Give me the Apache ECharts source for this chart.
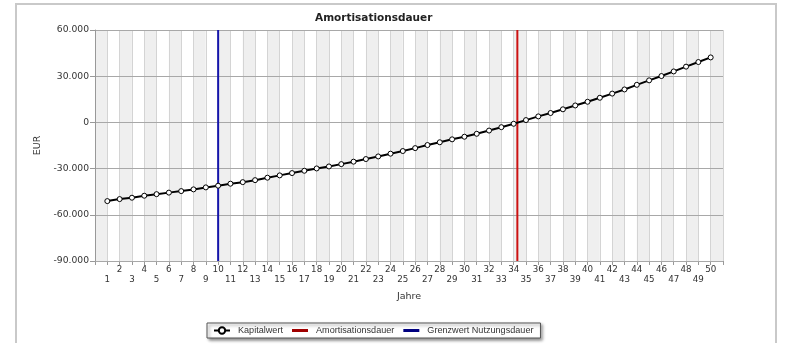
<!DOCTYPE html>
<html>
<head>
<meta charset="utf-8">
<script src="https://cdn.jsdelivr.net/npm/echarts@6/dist/echarts.min.js"></script>
<style>
  html, body { margin: 0; padding: 0; background: #fff; }
  #chart { width: 800px; height: 351px; }
</style>
</head>
<body>
<div id="chart"></div>
<script>
  // Jahre 1..50
  const jahre = [1, 2, 3, 4, 5, 6, 7, 8, 9, 10, 11, 12, 13, 14, 15, 16, 17, 18, 19, 20,
    21, 22, 23, 24, 25, 26, 27, 28, 29, 30, 31, 32, 33, 34, 35, 36, 37, 38, 39, 40,
    41, 42, 43, 44, 45, 46, 47, 48, 49, 50];

  // Kapitalwert in EUR
  const kapitalwert = [-51100, -49800, -48900, -47600, -46600, -45600, -44600, -43500, -42200, -41100,
    -39800, -38800, -37500, -35900, -34400, -32900, -31400, -29900, -28600, -27100,
    -25500, -23800, -22100, -20300, -18600, -16700, -14700, -12900, -11000, -9300,
    -7400, -5300, -3100, -900, 1500, 3900, 6100, 8500, 11000, 13400,
    16000, 18700, 21400, 24400, 27300, 30100, 33100, 36200, 39200, 42200];

  const amortisationsdauer = [34.3];
  const grenzwertNutzungsdauer = [10];
  const yRange = [-90000, 60000];

  const fmtEUR = v => {
    const s = String(Math.abs(v)).replace(/\B(?=(\d{3})+(?!\d))/g, '.');
    return (v < 0 ? '-' : '') + s;
  };

  const lineIcon = 'path://M0 0H16V3H0Z';

  const chart = echarts.init(document.getElementById('chart'));

  chart.setOption({
    animation: false,
    backgroundColor: '#fff',
    textStyle: { fontFamily: 'DejaVu Sans' },
    graphic: [{
      type: 'polyline',
      shape: { points: [[16, 343], [16, 4], [776, 4], [776, 343]] },
      style: { stroke: '#c9c9c9', lineWidth: 2, fill: null },
      silent: true
    }],
    title: {
      text: 'Amortisationsdauer',
      left: 315,
      top: 13,
      padding: 0,
      textStyle: { fontFamily: 'DejaVu Sans', fontSize: 10.5, fontWeight: 'bold', color: '#222' }
    },
    legend: {
      left: 207,
      top: 323,
      padding: [3, 7, 3, 6],
      itemGap: 9,
      itemWidth: 16,
      itemHeight: 8,
      borderColor: '#555',
      borderWidth: 1,
      backgroundColor: '#fff',
      shadowBlur: 3,
      shadowColor: 'rgba(0,0,0,0.45)',
      shadowOffsetX: 2,
      shadowOffsetY: 2,
      textStyle: { fontFamily: 'Liberation Sans', fontSize: 9.1, color: '#333', padding: [0, 0, 0, 3] },
      data: [
        'Kapitalwert',
        { name: 'Amortisationsdauer', icon: lineIcon },
        { name: 'Grenzwert Nutzungsdauer', icon: lineIcon }
      ]
    },
    grid: { left: 95, top: 30, right: 77, bottom: 90 },
    xAxis: {
      type: 'value',
      z: 0,
      min: 0,
      max: 51,
      interval: 1,
      name: 'Jahre',
      nameLocation: 'middle',
      nameGap: 31,
      nameTextStyle: { fontSize: 9.5, color: '#333' },
      axisLine: { onZero: false, lineStyle: { color: '#999' } },
      axisTick: { show: true, length: 4, lineStyle: { color: '#999' } },
      axisLabel: {
        margin: 4,
        fontSize: 8.7,
        lineHeight: 10,
        color: '#333',
        verticalAlign: 'top',
        formatter: v => {
          if (v < 1 || v > 50) return '';
          return v % 2 === 0 ? String(v) : '\n' + v;
        }
      },
      splitLine: { show: true, lineStyle: { color: '#d4d4d4' } },
      splitArea: { show: true, areaStyle: { color: ['#efefef', '#ffffff'] } }
    },
    yAxis: {
      type: 'value',
      z: 1,
      min: yRange[0],
      max: yRange[1],
      interval: 30000,
      name: 'EUR',
      nameLocation: 'middle',
      nameGap: 52,
      nameTextStyle: { fontSize: 9.5, color: '#333' },
      axisLine: { show: true, onZero: false, lineStyle: { color: '#999' } },
      axisTick: { show: true, length: 5, lineStyle: { color: '#999' } },
      axisLabel: { margin: 6, fontSize: 9.2, color: '#333', formatter: fmtEUR },
      splitLine: { lineStyle: { color: '#a8a8a8' } }
    },
    series: [
      {
        name: 'Kapitalwert',
        type: 'line',
        z: 5,
        data: jahre.map((j, i) => [j, kapitalwert[i]]),
        symbol: 'circle',
        symbolSize: 5,
        lineStyle: { color: '#000', width: 2 },
        itemStyle: { color: '#fff', borderColor: '#000', borderWidth: 1 }
      },
      {
        name: 'Amortisationsdauer',
        type: 'line',
        z: 3,
        symbol: 'none',
        data: [[amortisationsdauer[0], yRange[0]], [amortisationsdauer[0], yRange[1]]],
        lineStyle: { color: '#cc1111', width: 2 },
        itemStyle: { color: '#a00000' }
      },
      {
        name: 'Grenzwert Nutzungsdauer',
        type: 'line',
        z: 3,
        symbol: 'none',
        data: [[grenzwertNutzungsdauer[0], yRange[0]], [grenzwertNutzungsdauer[0], yRange[1]]],
        lineStyle: { color: '#1515aa', width: 2 },
        itemStyle: { color: '#000080' }
      }
    ]
  });
</script>
</body>
</html>
